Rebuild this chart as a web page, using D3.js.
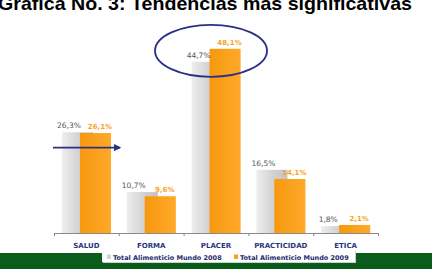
<!DOCTYPE html>
<html>
<head>
<meta charset="utf-8">
<script src="https://cdn.jsdelivr.net/npm/d3@7"></script>
<style>
  body { margin: 0; background: #fff; }
  svg { display: block; }
</style>
</head>
<body>
<script>
const width = 432;
const height = 274;

const categories = ['SALUD', 'FORMA', 'PLACER', 'PRACTICIDAD', 'ETICA'];
const values2008 = [26.3, 10.7, 44.7, 16.5, 1.8];
const values2009 = [26.1, 9.6, 48.1, 14.1, 2.1];
const seriesNames = ['Total Alimenticio Mundo 2008', 'Total Alimenticio Mundo 2009'];

const fmt = (v) => `${v.toFixed(1).replace('.', ',')}%`;
const navy = '#2b2f85';

const svg = d3
  .select('body')
  .append('svg')
  .attr('width', width)
  .attr('height', height);

const defs = svg.append('defs');
const gGray = defs.append('linearGradient').attr('id', 'gGray');
gGray.append('stop').attr('offset', '0%').attr('stop-color', '#eeeeee');
gGray.append('stop').attr('offset', '60%').attr('stop-color', '#cfcfcf');
gGray.append('stop').attr('offset', '100%').attr('stop-color', '#c4c4c4');
const gOrange = defs.append('linearGradient').attr('id', 'gOrange');
gOrange.append('stop').attr('offset', '0%').attr('stop-color', '#f7980f');
gOrange.append('stop').attr('offset', '100%').attr('stop-color', '#ffa92a');

defs
  .append('marker')
  .attr('id', 'arrowhead')
  .attr('viewBox', '0 -5 10 10')
  .attr('refX', 8)
  .attr('refY', 0)
  .attr('orient', 'auto')
  .attr('markerWidth', 4)
  .attr('markerHeight', 4)
  .append('path')
  .attr('d', 'M 0,-5 L 10,0 L 0,5 Z')
  .attr('fill', navy);

// title (cut at the top in the original)
svg
  .append('text')
  .attr('x', -2)
  .attr('y', 10)
  .attr('textLength', 414)
  .attr('lengthAdjust', 'spacingAndGlyphs')
  .style('font-family', '"Liberation Sans", Arial, sans-serif')
  .style('font-weight', 'bold')
  .style('font-size', '19px')
  .attr('fill', '#000')
  .text('Gráfica No. 3: Tendencias más significativas');

const x = d3.scaleBand().domain(categories).range([54, 378]).paddingInner(0);
const bw = x.bandwidth();
const y = d3.scaleLinear().domain([0, 50]).range([233, 41.5]);

const barW = bw * 0.48;
const grayX = (c) => x(c) + bw * 0.123;
const orangeX = (c) => x(c) + bw * 0.4;

// axis
svg
  .append('line')
  .attr('x1', 54)
  .attr('x2', 378)
  .attr('y1', y(0) + 0.5)
  .attr('y2', y(0) + 0.5)
  .attr('stroke', '#8a8a8a');

const tickPos = categories.map((c) => x(c)).concat([x.range()[1]]);
svg
  .selectAll('.tick')
  .data(tickPos)
  .enter()
  .append('line')
  .attr('class', 'tick')
  .attr('x1', (d) => d + 0.5)
  .attr('x2', (d) => d + 0.5)
  .attr('y1', y(0))
  .attr('y2', y(0) + 3)
  .attr('stroke', '#8a8a8a');

// gray bars (2008)
svg
  .selectAll('.bar08')
  .data(categories)
  .enter()
  .append('rect')
  .attr('class', 'bar08')
  .attr('x', (d) => grayX(d))
  .attr('y', (d, i) => y(values2008[i]))
  .attr('width', barW)
  .attr('height', (d, i) => y(0) - y(values2008[i]))
  .attr('fill', 'url(#gGray)');

// orange bars (2009)
svg
  .selectAll('.bar09')
  .data(categories)
  .enter()
  .append('rect')
  .attr('class', 'bar09')
  .attr('x', (d) => orangeX(d))
  .attr('y', (d, i) => y(values2009[i]))
  .attr('width', barW)
  .attr('height', (d, i) => y(0) - y(values2009[i]))
  .attr('fill', 'url(#gOrange)');

// value labels
svg
  .selectAll('.lab08')
  .data(categories)
  .enter()
  .append('text')
  .attr('class', 'lab08')
  .attr('x', (d) => grayX(d) + 7)
  .attr('y', (d, i) => y(values2008[i]) - 4)
  .attr('text-anchor', 'middle')
  .style('font-family', '"DejaVu Sans", Verdana, sans-serif')
  .style('font-size', '7.5px')
  .attr('fill', '#555')
  .text((d, i) => fmt(values2008[i]));

svg
  .selectAll('.lab09')
  .data(categories)
  .enter()
  .append('text')
  .attr('class', 'lab09')
  .attr('x', (d) => orangeX(d) + 20)
  .attr('y', (d, i) => y(values2009[i]) - 4)
  .attr('text-anchor', 'middle')
  .style('font-family', '"DejaVu Sans", Verdana, sans-serif')
  .style('font-size', '7px')
  .style('font-weight', 'bold')
  .attr('fill', '#f8a21f')
  .text((d, i) => fmt(values2009[i]));

// category labels
svg
  .selectAll('.cat')
  .data(categories)
  .enter()
  .append('text')
  .attr('class', 'cat')
  .attr('x', (d) => x(d) + bw / 2)
  .attr('y', 248)
  .attr('text-anchor', 'middle')
  .style('font-family', '"DejaVu Sans", Verdana, sans-serif')
  .style('font-size', '7px')
  .style('font-weight', 'bold')
  .attr('fill', '#2a3580')
  .text((d) => d);

// annotations
svg
  .append('ellipse')
  .attr('cx', orangeX('PLACER') + 1.5)
  .attr('cy', y(values2009[2]) + 2)
  .attr('rx', 56)
  .attr('ry', 26)
  .attr('fill', 'none')
  .attr('stroke', navy)
  .attr('stroke-width', 1.8);

svg
  .append('line')
  .attr('x1', x('SALUD') - 1)
  .attr('x2', x('SALUD') + bw + 1)
  .attr('y1', y(22.3))
  .attr('y2', y(22.3))
  .attr('stroke', navy)
  .attr('stroke-width', 1.8)
  .attr('marker-end', 'url(#arrowhead)');

// bottom green strip and legend
svg
  .append('rect')
  .attr('x', 0)
  .attr('y', 253)
  .attr('width', width)
  .attr('height', 16)
  .attr('fill', '#0b5b1d');

svg
  .append('rect')
  .attr('x', 103)
  .attr('y', 251)
  .attr('width', 253)
  .attr('height', 12)
  .attr('fill', '#c9d3c9');
svg
  .append('rect')
  .attr('x', 102)
  .attr('y', 250)
  .attr('width', 253)
  .attr('height', 12)
  .attr('fill', '#fff');

const legendX = [107, 234];
const legendColors = ['#d2d2d2', '#f9a21e'];
const legend = svg
  .selectAll('.legend')
  .data(seriesNames)
  .enter()
  .append('g')
  .attr('class', 'legend')
  .attr('transform', (d, i) => `translate(${legendX[i]}, 0)`);

legend
  .append('rect')
  .attr('x', 0)
  .attr('y', 254.5)
  .attr('width', 4)
  .attr('height', 4.5)
  .attr('fill', (d, i) => legendColors[i]);

legend
  .append('text')
  .attr('x', 6)
  .attr('y', 259.5)
  .style('font-family', '"DejaVu Sans", Verdana, sans-serif')
  .style('font-size', '6.5px')
  .style('font-weight', 'bold')
  .attr('fill', '#1f2a70')
  .text((d) => d);
</script>
</body>
</html>
